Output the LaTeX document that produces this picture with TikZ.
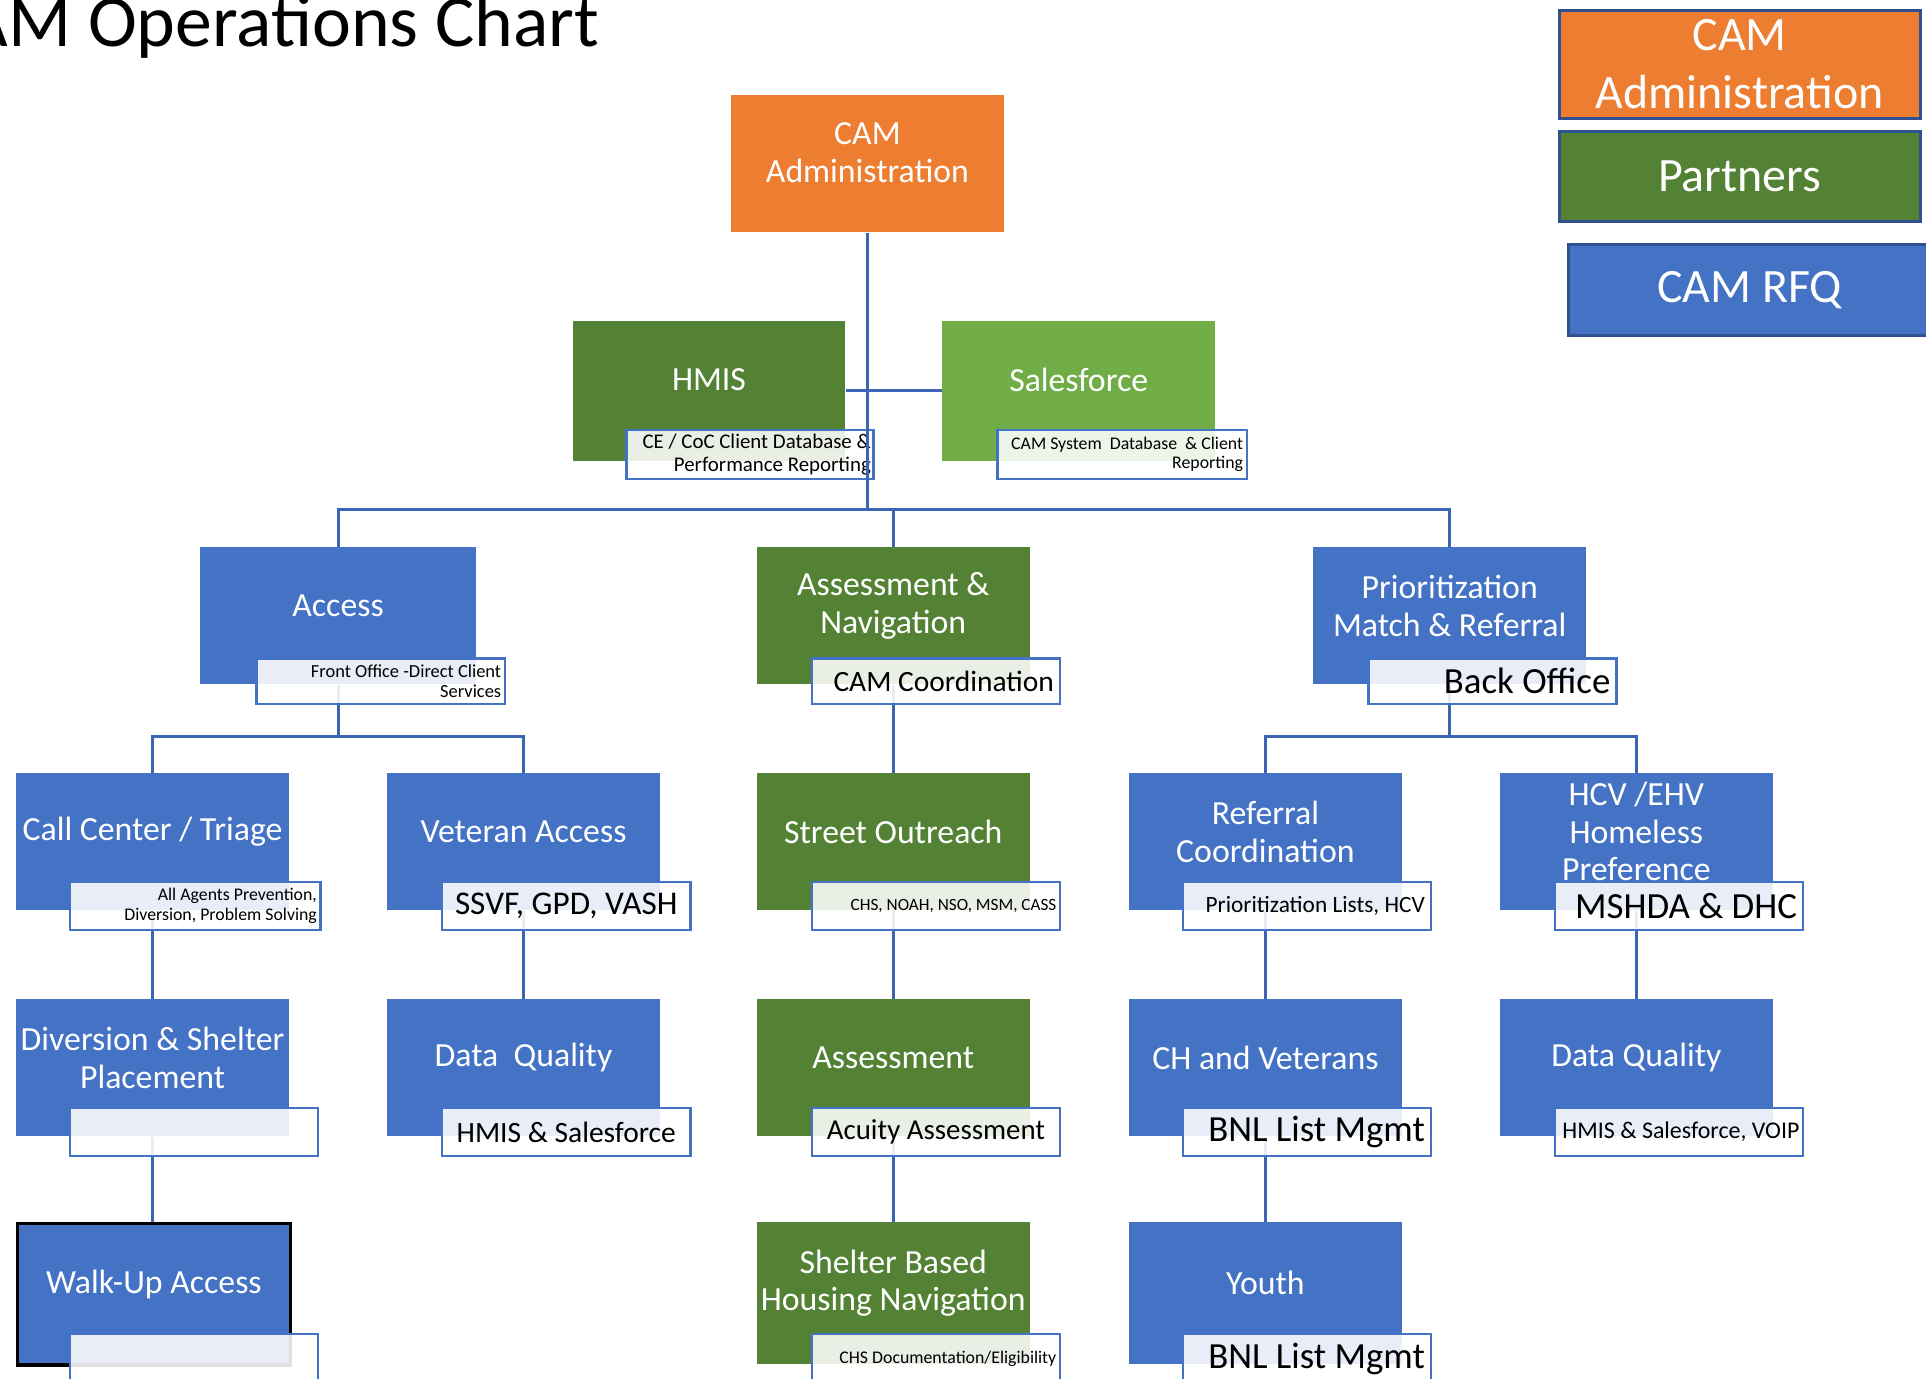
\documentclass[tikz,border=0pt]{standalone}
\usepackage{fontspec}
\setmainfont{Carlito}
\usetikzlibrary{calc}
\definecolor{camOrange}{HTML}{ED7D31}
\definecolor{dkGreen}{HTML}{548235}
\definecolor{ltGreen}{HTML}{70AD47}
\definecolor{camBlue}{HTML}{4472C4}
\definecolor{lgBorder}{HTML}{2F528F}
\definecolor{connBlue}{HTML}{3C66B5}
\pgfdeclarelayer{bg}
\pgfsetlayers{bg,main}
\newcommand{\fs}[1]{\fontsize{#1}{#1}\selectfont}
\begin{document}
\begin{tikzpicture}[x=1pt,y=-1pt,
  box/.style={anchor=north west, minimum width=222pt, minimum height=112pt, inner sep=0pt, draw=none},
  bluebox/.style={box, fill=camBlue},
  greenbox/.style={box, fill=dkGreen},
  boxtext/.style={text=white, font=\fontsize{27.5}{30.5}\selectfont, align=flush center, inner sep=0pt},
  tbox/.style={anchor=north west, draw=camBlue, line width=2pt, fill=white, fill opacity=0.88, text opacity=1, text=black, minimum height=38pt, inner xsep=5pt, inner ysep=0pt, text width=192pt, align=flush right},
  conn/.style={draw=connBlue, line width=2.5pt},
  legend/.style={anchor=north west, draw=lgBorder, line width=2.5pt, minimum width=294pt, text=white, font=\fontsize{39}{47}\selectfont, align=flush center, inner sep=0pt}
]
\useasboundingbox (0,0) rectangle (1568,1122);

% title
\node[anchor=base west, inner sep=0pt, font=\fontsize{60}{72}\selectfont] (title) at (-60,38) {CAM Operations Chart};

% legend
\node[legend, fill=camOrange, minimum height=88pt] (lgAdmin) at (1268,7) {CAM\\Administration};
\node[legend, fill=dkGreen, minimum height=73pt] (lgPart) at (1268,106) {Partners};
\node[legend, fill=camBlue, minimum height=74pt] (lgRfq) at (1276,198) {CAM RFQ};

% level 0/1
\node[box, fill=camOrange] (admin) at (595,77) {};
\node[boxtext] (adminT) at ([yshift=9pt]admin.center) {CAM\\Administration};

\node[box, fill=dkGreen, minimum height=114pt] (hmis) at (466,261) {};
\node[boxtext] (hmisT) at ([yshift=9pt]hmis.center) {HMIS};
\node[box, fill=ltGreen, minimum height=114pt] (sales) at (767,261) {};
\node[boxtext] (salesT) at ([yshift=9pt]sales.center) {Salesforce};

% level 2
\node[bluebox, minimum width=224pt] (access) at (163,445) {};
\node[boxtext] (accessT) at ([yshift=8pt]access.center) {Access};
\node[greenbox] (nav) at (616,445) {};
\node[boxtext] (navT) at ([yshift=8pt]nav.center) {Assessment \&\\Navigation};
\node[bluebox] (prio) at (1069,445) {};
\node[boxtext] (prioT) at ([yshift=8pt]prio.center) {Prioritization\\Match \& Referral};

% level 3
\node[bluebox] (call) at (13,629) {};
\node[boxtext] (callT) at ([yshift=8pt]call.center) {Call Center / Triage};
\node[bluebox] (vet) at (315,629) {};
\node[boxtext] (vetT) at ([yshift=8pt]vet.center) {Veteran Access};
\node[greenbox] (out) at (616,629) {};
\node[boxtext] (outT) at ([yshift=8pt]out.center) {Street Outreach};
\node[bluebox] (ref) at (919,629) {};
\node[boxtext] (refT) at ([yshift=8pt]ref.center) {Referral\\Coordination};
\node[bluebox] (hcv) at (1221,629) {};
\node[boxtext] (hcvT) at ([yshift=8pt]hcv.center) {HCV /EHV\\Homeless\\Preference};

% level 4
\node[bluebox] (div) at (13,813) {};
\node[boxtext] (divT) at ([yshift=8pt]div.center) {Diversion \& Shelter\\Placement};
\node[bluebox] (dq) at (315,813) {};
\node[boxtext] (dqT) at ([yshift=8pt]dq.center) {Data\ \ Quality};
\node[greenbox] (ass) at (616,813) {};
\node[boxtext] (assT) at ([yshift=8pt]ass.center) {Assessment};
\node[bluebox] (ch) at (919,813) {};
\node[boxtext] (chT) at ([yshift=8pt]ch.center) {CH and Veterans};
\node[bluebox] (dqb) at (1221,813) {};
\node[boxtext] (dqbT) at ([yshift=8pt]dqb.center) {Data Quality};

% level 5
\node[bluebox, minimum height=115pt, draw=black, line width=2.5pt] (walk) at (13,995) {};
\node[boxtext] (walkT) at ([yshift=8pt]walk.center) {Walk-Up Access};
\node[greenbox, minimum height=115pt] (shel) at (616,995) {};
\node[boxtext] (shelT) at ([yshift=8pt]shel.center) {Shelter Based\\Housing Navigation};
\node[bluebox, minimum height=115pt] (youth) at (919,995) {};
\node[boxtext] (youthT) at ([yshift=8pt]youth.center) {Youth};

% connectors (behind)
\begin{pgfonlayer}{bg}
\coordinate (bus) at (0,415);
\draw[conn] (access.north) |- (bus -| prio.north) -- (prio.north);
\draw[conn] (nav.north) -- (nav.north |- bus);
\coordinate (accBus) at ([yshift=-42pt]access.south);
\draw[conn] (access.south) -- (accBus);
\draw[conn] (call.north) |- (accBus) -| (vet.north);
\coordinate (prioBus) at ([yshift=-42pt]prio.south);
\draw[conn] (prio.south) -- (prioBus);
\draw[conn] (ref.north) |- (prioBus) -| (hcv.north);
\draw[conn] (nav.south) -- (out.north);
\draw[conn] (out.south) -- (ass.north);
\draw[conn] (ass.south) -- (shel.north);
\draw[conn] (call.south) -- (div.north);
\draw[conn] (div.south) -- (div.south |- walk.north);
\draw[conn] (vet.south) -- (dq.north);
\draw[conn] (ref.south) -- (ch.north);
\draw[conn] (ch.south) -- (youth.north);
\draw[conn] (hcv.south) -- (dqb.north);
\end{pgfonlayer}

% text boxes
\node[tbox, minimum height=40pt, inner xsep=2pt, text width=197pt, font=\fontsize{17}{19}\selectfont] (hmisS) at (509,349) {CE / CoC Client Database \&\\Performance Reporting};
\node[tbox, minimum height=40pt, text width=197pt, inner xsep=3pt, font=\fontsize{14.5}{16}\selectfont] (salesS) at (811,349) {CAM System~ Database~ \& Client\\Reporting};
\node[tbox, minimum height=37pt, inner xsep=3pt, text width=196pt, font=\fontsize{15}{16}\selectfont] (accessS) at (208,535) {Front Office -Direct Client\\Services};
\node[tbox, minimum height=37pt, font=\fs{24}] (navS) at (660,535) {CAM Coordination};
\node[tbox, minimum height=37pt, font=\fs{30}] (prioS) at (1113,535) {Back Office};

\node[tbox, minimum height=39pt, inner xsep=3pt, text width=198pt, font=\fontsize{14.5}{16}\selectfont] (callS) at (56,717) {All Agents Prevention,\\Diversion, Problem Solving};
\node[tbox, minimum height=39pt, align=flush center, font=\fs{27}] (vetS) at (359,717) {SSVF, GPD, VASH};
\node[tbox, minimum height=39pt, inner xsep=3pt, text width=196pt, font=\fs{14}] (outS) at (660,717) {CHS, NOAH, NSO, MSM, CASS};
\node[tbox, minimum height=39pt, font=\fs{19}] (refS) at (962,717) {Prioritization Lists, HCV};
\node[tbox, minimum height=39pt, font=\fs{30}] (hcvS) at (1265,717) {MSHDA \& DHC};

\node[tbox, minimum height=39pt] (divS) at (56,901) {};
\node[tbox, minimum height=39pt, align=flush center, font=\fs{24}] (dqS) at (359,901) {HMIS \& Salesforce};
\node[tbox, minimum height=39pt, align=flush center, font=\fs{23.5}] (assS) at (660,901) {Acuity Assessment};
\node[tbox, minimum height=39pt, font=\fs{30}] (chS) at (962,901) {BNL List Mgmt};
\node[tbox, minimum height=39pt, inner xsep=3pt, text width=196pt, font=\fs{19.5}] (dqbS) at (1265,901) {HMIS \& Salesforce, VOIP};

\node[tbox, minimum height=40pt] (walkS) at (56,1085) {};
\node[tbox, minimum height=40pt, inner xsep=3pt, text width=196pt, font=\fs{14.5}] (shelS) at (660,1085) {CHS Documentation/Eligibility};
\node[tbox, minimum height=40pt, font=\fs{30}] (youthS) at (962,1085) {BNL List Mgmt};

% trunk on top
\draw[conn] (admin.south) -- (admin.south |- bus);
\draw[conn] (hmis.east) -- (sales.west);
\end{tikzpicture}
\end{document}
